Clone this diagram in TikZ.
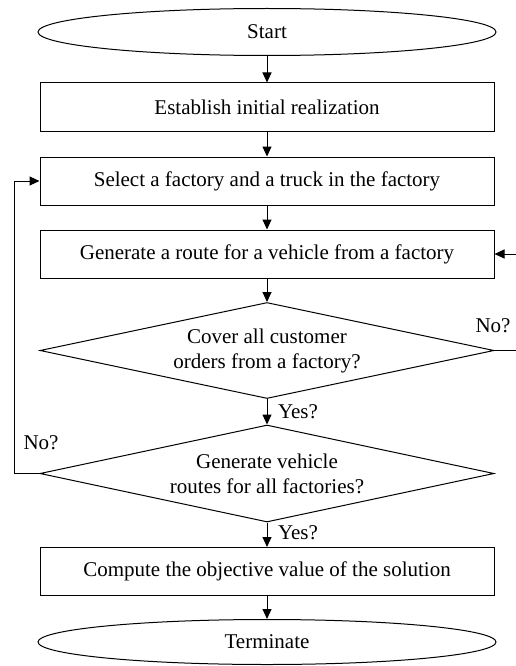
\documentclass[tikz,border=0pt]{standalone}
\usepackage{fontspec}
\setmainfont{Liberation Serif}
\usetikzlibrary{shapes.geometric,arrows.meta}
\begin{document}
\begin{tikzpicture}[x=1pt,y=-1pt,
  every node/.style={font=\fontsize{21}{25}\selectfont},
  base/.style={draw, line width=1pt, inner sep=0pt},
  procbox/.style={base, rectangle, minimum width=454pt, minimum height=48pt},
  term/.style={base, ellipse, minimum width=458pt, minimum height=47pt},
  decis/.style={base, diamond, minimum width=454pt, minimum height=96pt},
  arr/.style={line width=1pt, -{Triangle[length=10pt,width=9pt]}},
  lbl/.style={inner sep=0pt}
]
\useasboundingbox (0,0) rectangle (516,666);
\clip (0,0) rectangle (516,666);
\node[term] (start) at (267,32) {Start};
\node[procbox] (b1) at (267,107) {Establish initial realization};
\node[procbox] (b2) at (267,181) {Select a factory and a truck in the factory};
\node[procbox] (b3) at (267,254) {Generate a route for a vehicle from a factory};
\node[decis, label={[align=center,font=\fontsize{21}{25}\selectfont]center:Cover all customer\\orders from a factory?}] (d1) at (267,350.5) {};
\node[decis, minimum height=97pt, label={[align=center,font=\fontsize{21}{25}\selectfont]center:Generate vehicle\\routes for all factories?}] (d2) at (267,473.5) {};
\node[procbox] (b4) at (267,571.5) {Compute the objective value of the solution};
\node[term, minimum height=45pt] (end) at (267,642) {Terminate};

\coordinate (lx) at (14,473.5);
\coordinate (rx1) at (530,350.5);
\coordinate (rx2) at (530,254);

\draw[arr] (start) -- (b1);
\draw[arr] (b1) -- (b2);
\draw[arr] (b2) -- (b3);
\draw[arr] (b3) -- (d1);
\draw[arr] (d1) -- (d2);
\draw[arr] (d2) -- (b4);
\draw[arr] (b4) -- (end);
\draw[arr] (d2.west) -- (lx) |- (b2.west);
\draw[arr] (d1.east) -- (rx1) -- (rx2) -- (b3.east);

\node[lbl] (yes1) at (298,412) {Yes?};
\node[lbl] (yes2) at (298,533) {Yes?};
\node[lbl] (no1) at (493,326) {No?};
\node[lbl] (no2) at (41,443) {No?};
\end{tikzpicture}
\end{document}
